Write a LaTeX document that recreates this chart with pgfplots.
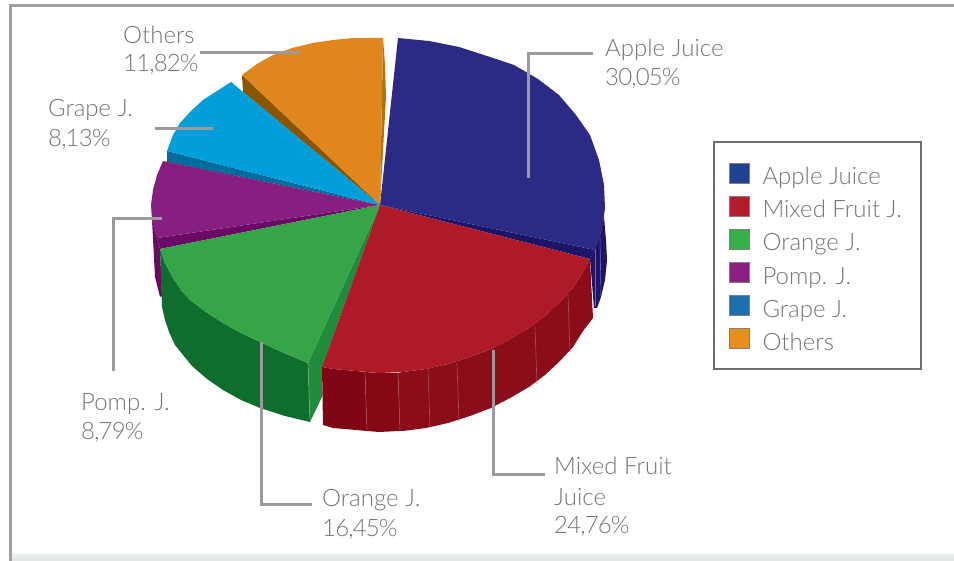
\documentclass[border=0pt]{standalone}
\usepackage{fontspec}
\setmainfont{Lato}[UprightFont=* Light]
\newfontfamily\pct{Lato}[UprightFont=* Light,LetterSpace=-3.5]
\usepackage{pgfplots}
\pgfplotsset{compat=1.18}
\definecolor{frameg}{HTML}{A0A0A4}
\definecolor{leadg}{HTML}{9B9B9D}
\definecolor{textg}{HTML}{737578}
\definecolor{boxg}{HTML}{6F6F6F}
\definecolor{fadea}{HTML}{F3F5F5}
\definecolor{fadeb}{HTML}{EBEEEE}
\definecolor{fadec}{HTML}{E2E6E6}
% slice colours: top, side
\definecolor{bluetop}{RGB}{43,42,132}
\definecolor{blueside}{RGB}{27,20,103}
\definecolor{blueseam}{RGB}{110,105,170}
\definecolor{orgtop}{RGB}{224,134,28}
\definecolor{orgright}{RGB}{179,114,15}
\definecolor{orgleft}{RGB}{139,85,0}
\definecolor{cyantop}{RGB}{0,159,219}
\definecolor{cyanside}{RGB}{0,109,158}
\definecolor{purptop}{RGB}{134,31,128}
\definecolor{purpside}{RGB}{106,10,102}
\definecolor{greentop}{RGB}{53,165,72}
\definecolor{greenside}{RGB}{15,110,45}
\definecolor{greencut}{RGB}{30,140,58}
\definecolor{greenseam}{RGB}{110,175,125}
\definecolor{redtop}{RGB}{175,26,40}
\definecolor{redsidea}{RGB}{127,6,20}
\definecolor{redsideb}{RGB}{132,9,21}
\definecolor{redsidec}{RGB}{139,13,25}
\definecolor{redseam}{RGB}{170,80,88}
% legend swatches
\definecolor{lgblue}{RGB}{32,65,143}
\definecolor{lgred}{RGB}{181,28,43}
\definecolor{lggreen}{RGB}{56,176,74}
\definecolor{lgpurp}{RGB}{139,32,130}
\definecolor{lgcyan}{RGB}{27,111,176}
\definecolor{lgorg}{RGB}{232,142,28}
\newcommand\lgd[1]{\hspace*{13pt}\makebox[143.5pt][l]{\rule[-4.3pt]{0pt}{29.75pt}#1}}
\pgfplotsset{
  wedge/.style={forget plot,fill=#1,draw=none},
  leader/.style={forget plot,draw=leadg,line width=3pt},
  seam/.style={forget plot,draw=#1,line width=0.6pt},
}
\tikzset{lab/.style={anchor=base west,inner sep=0pt,text=textg,font=\fontsize{24}{24}\selectfont}}
\begin{document}
\begin{tikzpicture}
\begin{axis}[
    width=954pt, height=561pt, scale only axis,
    xmin=0, xmax=954, ymin=0, ymax=561, y dir=reverse,
    hide axis,
    legend image code/.code={\draw[#1] (0pt,1.5pt) rectangle (20pt,21.5pt);},
    legend style={
      at={(0.7474,0.7487)}, anchor=north west,
      draw=boxg, line width=2pt, fill=white,
      inner xsep=14.5pt, inner ysep=17.2pt, row sep=6.2pt,
      nodes={inner sep=0pt,anchor=base west},
      font=\fontsize{24}{24}\selectfont, text=textg,
    },
]
% keep the whole canvas in the page
\path (axis cs:0,0) (axis cs:954,561);
% frame and bottom fade
\addplot[wedge=fadea] coordinates {(10,553) (954,553) (954,555) (10,555)};
\addplot[wedge=fadeb] coordinates {(10,555) (954,555) (954,558) (10,558)};
\addplot[wedge=fadec] coordinates {(10,558) (954,558) (954,561) (10,561)};
\addplot[forget plot,draw=frameg,line width=3pt] coordinates {(10.5,561) (10.5,5.5) (954,5.5)};

% apple juice
\addplot[wedge=blueside] coordinates {(604,217) (606,240) (607,260) (605,280) (601,297) (597,308) (594,308) (590,259) (595,250)};
\addplot[wedge=blueside] coordinates {(380,205) (595,250) (590,259)};
\addplot[seam=blueseam] coordinates {(595,250) (595,306)};
\addplot[seam=blueseam] coordinates {(600,238) (601,296)};
\addplot[wedge=bluetop] coordinates {
 (380,205) (398,38) (429,41) (459,47) (487,56) (514,65) (538,79) (559,95) (576,115) (590,135)
 (599,160) (604,185) (605,208) (602,231) (595,250)};

% others
\addplot[wedge=orgright] coordinates {(383,38) (385,65) (386,97) (380,205)};
\addplot[wedge=orgleft] coordinates {(242,75) (243,92) (380,205)};
\addplot[wedge=orgtop] coordinates {
 (380,205) (242,75) (257,64) (273,55) (292,48) (313,43) (333,40) (353,38) (383,38)};

% grape
\addplot[wedge=cyanside] coordinates {(167,151) (380,205) (167,162)};
\addplot[wedge=cyantop] coordinates {
 (380,205) (167,151) (173,135) (180,123) (191,111) (203,100) (217,91) (231,82)};

% pomp
\addplot[wedge=purpside] coordinates {(152,220) (155,277) (160,297) (162,296) (160,249) (157,238)};
\addplot[wedge=purpside] coordinates {(380,205) (157,238) (160,249)};
\addplot[wedge=purptop] coordinates {
 (380,205) (163,161) (157,175) (153,190) (151,205) (152,220) (154,230) (157,238)};

% orange
\addplot[wedge=greenside] coordinates {
 (160,249) (165,263) (173,278) (181,290) (190,300) (206,312) (223,323) (241,333) (260,342) (284,353) (308,363)
 (310,422) (285,416) (260,408) (241,400) (223,390) (207,379) (192,366) (183,355) (175,345) (169,332) (165,320) (162,307)};
\addplot[wedge=greencut] coordinates {(308,363) (380,205) (322,367) (322,397) (310,422)};
\addplot[seam=greenseam] coordinates {(308,363) (310,420)};
\addplot[wedge=greentop] coordinates {
 (380,205) (160,249) (165,263) (173,278) (181,290) (190,300) (206,312) (223,323) (241,333) (260,342) (284,353) (308,363)};

% mixed fruit
\addplot[wedge=redsidea] coordinates {(322,367) (333,369) (356,371) (365,372) (367,431) (356,430) (333,428) (323,425)};
\addplot[wedge=redsideb] coordinates {(365,372) (379,373) (398,373) (400,431) (379,432) (367,431)};
\addplot[wedge=redsidec] coordinates {
 (398,373) (403,372) (426,369) (448,364) (470,357) (491,349) (510,339) (529,328) (545,316) (560,302) (573,288) (583,272) (590,259)
 (593,318) (583,331) (573,347) (560,361) (545,375) (529,387) (510,398) (491,408) (470,416) (448,423) (426,428) (403,431) (400,431)};
\addplot[seam=redseam] coordinates {(365,372) (367,430)};
\addplot[seam=redseam] coordinates {(398,373) (400,430)};
\addplot[seam=redseam] coordinates {(428,370) (430,427)};
\addplot[seam=redseam] coordinates {(457,363) (459,421)};
\addplot[seam=redseam] coordinates {(535,327) (537,384)};
\addplot[seam=redseam] coordinates {(568,295) (570,352)};
\addplot[wedge=redtop] coordinates {
 (380,205) (590,259) (583,272) (573,288) (560,302) (545,316) (529,328) (510,339) (491,349) (470,357) (448,364)
 (426,369) (403,372) (379,373) (356,371) (333,369) (322,367)};

% leader lines
\addplot[leader] coordinates {(593,54) (528,54) (528,178)};
\addplot[leader] coordinates {(493,350) (493,474) (545,474)};
\addplot[leader] coordinates {(261,342) (261,504) (312,504)};
\addplot[leader] coordinates {(162,219) (113,219) (113,371)};
\addplot[leader] coordinates {(155,129) (213,129)};
\addplot[leader] coordinates {(200,53) (300,53)};

% labels
\node[lab] at (axis cs:605,57) {Apple Juice};
\node[lab] at (axis cs:605,86) {\pct 30,05\%};
\node[lab] at (axis cs:554,475) {Mixed Fruit};
\node[lab] at (axis cs:554,505) {Juice};
\node[lab] at (axis cs:554,533) {\pct 24,76\%};
\node[lab] at (axis cs:322,507) {Orange J.};
\node[lab] at (axis cs:322,536) {\pct 16,45\%};
\node[lab] at (axis cs:81,411) {Pomp. J.};
\node[lab] at (axis cs:81,440) {\pct 8,79\%};
\node[lab] at (axis cs:48,117) {Grape J.};
\node[lab] at (axis cs:48,147) {\pct 8,13\%};
\node[lab] at (axis cs:123,44) {Others};
\node[lab] at (axis cs:123,72) {\pct 11,82\%};

% legend
\addlegendimage{fill=lgblue,draw=gray,line width=1pt}
\addlegendentry{\lgd{Apple Juice}}
\addlegendimage{fill=lgred,draw=gray,line width=1pt}
\addlegendentry{\lgd{Mixed Fruit J.}}
\addlegendimage{fill=lggreen,draw=gray,line width=1pt}
\addlegendentry{\lgd{Orange J.}}
\addlegendimage{fill=lgpurp,draw=gray,line width=1pt}
\addlegendentry{\lgd{Pomp. J.}}
\addlegendimage{fill=lgcyan,draw=gray,line width=1pt}
\addlegendentry{\lgd{Grape J.}}
\addlegendimage{fill=lgorg,draw=gray,line width=1pt}
\addlegendentry{\lgd{Others}}
\end{axis}
\end{tikzpicture}
\end{document}
